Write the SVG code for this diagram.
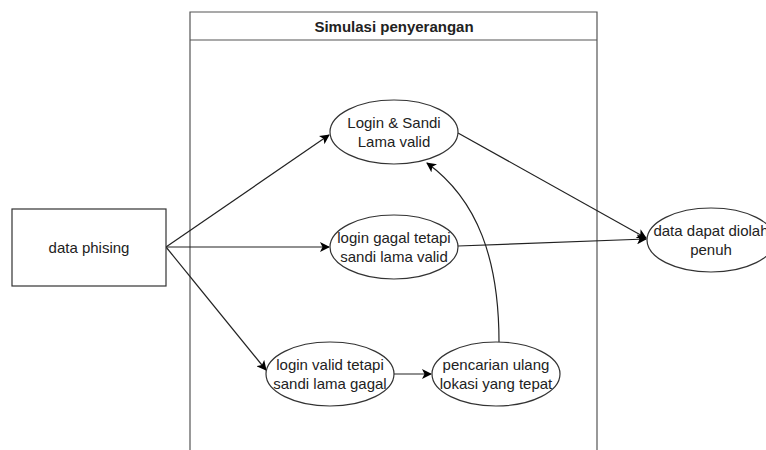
<svg xmlns="http://www.w3.org/2000/svg" width="766" height="450" viewBox="0 0 766 450">
<defs>
<marker id="ah" markerWidth="10" markerHeight="10" refX="9" refY="5" orient="auto" markerUnits="userSpaceOnUse">
<path d="M0,0 L10,5 L0,10 L2.5,5 Z" fill="#000"/>
</marker>
<style>
text{font-family:"Liberation Sans",Arial,sans-serif;font-size:15px;fill:#222;text-anchor:middle}
.node{fill:#fff;stroke:#333;stroke-width:1.2}
.lane{fill:none;stroke:#555;stroke-width:1.2}
.edge{fill:none;stroke:#222;stroke-width:1.2;marker-end:url(#ah)}
</style>
</defs>
<rect width="766" height="450" fill="#fff"/>
<g id="lane">
<path class="lane" d="M190,460 L190,12 L597,12 L597,460"/>
<line class="lane" x1="190" y1="40" x2="597" y2="40"/>
<text x="394" y="32" font-weight="bold">Simulasi penyerangan</text>
</g>
<g id="connectors">
<path class="edge" d="M166,247 L329,135"/>
<path class="edge" d="M166,247 L329,247"/>
<path class="edge" d="M166,247 L266,370"/>
<path class="edge" d="M394,374 L431,374"/>
<path class="edge" d="M499,342 C499,260 478,200 427,163"/>
<path class="edge" d="M458,133 L646,238"/>
<path class="edge" d="M458,246 L646,239"/>
</g>
<g id="n-data-phising">
<rect class="node" x="12" y="209" width="154" height="77"/>
<text x="89" y="253">data phising</text>
</g>
<g id="n-login-sandi">
<ellipse class="node" cx="394" cy="132" rx="64" ry="32"/>
<text x="394" y="128">Login &amp; Sandi</text>
<text x="394" y="147">Lama valid</text>
</g>
<g id="n-login-gagal">
<ellipse class="node" cx="394" cy="247" rx="64" ry="32"/>
<text x="394" y="243">login gagal tetapi</text>
<text x="394" y="262">sandi lama valid</text>
</g>
<g id="n-login-valid">
<ellipse class="node" cx="330" cy="374" rx="64" ry="32"/>
<text x="330" y="370">login valid tetapi</text>
<text x="330" y="389">sandi lama gagal</text>
</g>
<g id="n-pencarian">
<ellipse class="node" cx="496" cy="374" rx="64" ry="32"/>
<text x="496" y="370">pencarian ulang</text>
<text x="496" y="389">lokasi yang tepat</text>
</g>
<g id="n-data-dapat">
<ellipse class="node" cx="711" cy="240" rx="64" ry="32"/>
<text x="711" y="236">data dapat diolah</text>
<text x="711" y="255">penuh</text>
</g>
</svg>
